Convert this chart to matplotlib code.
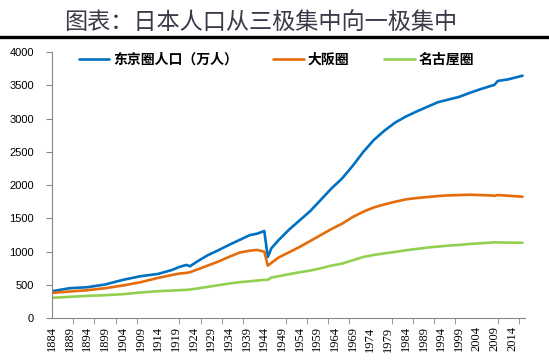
import matplotlib.pyplot as plt
from matplotlib.lines import Line2D

plt.rcParams['font.family'] = ['Noto Sans CJK SC', 'DejaVu Sans']

# data (万人)
years = [1884, 1889, 1894, 1899, 1904, 1909, 1914, 1918, 1920, 1922, 1923, 1925,
         1928, 1931, 1934, 1937, 1940, 1942, 1944, 1945, 1946, 1948, 1951, 1954,
         1957, 1960, 1963, 1966, 1969, 1972, 1975, 1978, 1981, 1984, 1987, 1990,
         1993, 1996, 1999, 2002, 2005, 2008, 2009, 2010, 2013, 2017]

tokyo = [405, 450, 465, 505, 575, 630, 665, 725, 770, 800, 780, 850,
         945, 1020, 1100, 1175, 1250, 1270, 1310, 920, 1050, 1170, 1330, 1470,
         1610, 1780, 1950, 2100, 2290, 2500, 2680, 2820, 2940, 3030, 3105, 3175,
         3245, 3285, 3325, 3385, 3440, 3490, 3505, 3565, 3590, 3645]

osaka = [380, 400, 420, 450, 490, 540, 605, 650, 670, 680, 690, 730,
         790, 850, 920, 985, 1015, 1025, 1000, 790, 830, 910, 990, 1070,
         1160, 1250, 1340, 1420, 1520, 1600, 1665, 1710, 1750, 1785, 1805, 1820,
         1835, 1845, 1850, 1855, 1850, 1845, 1840, 1850, 1840, 1825]

nagoya = [305, 320, 335, 345, 360, 385, 405, 415, 420, 425, 430, 445,
          470, 495, 520, 540, 555, 565, 575, 575, 610, 630, 660, 690,
          715, 750, 790, 820, 870, 920, 950, 975, 995, 1020, 1040, 1060,
          1075, 1090, 1100, 1115, 1125, 1135, 1140, 1138, 1135, 1133]

labels = ['东京圈人口（万人）', '大阪圈', '名古屋圈']
colors = ['#0070C0', '#E46C0A', '#92D050']
label_years = list(range(1884, 2015, 5))
tick_years = list(range(1884, 2018, 6))

fig = plt.figure(figsize=(5.49, 3.64), dpi=100)
ax = fig.add_axes([0.0947, 0.126, 0.861, 0.731])

for series, lab, c in zip([tokyo, osaka, nagoya], labels, colors):
    ax.plot(years, series, color=c, lw=1.9, label=lab, solid_capstyle='round')

ax.set_xlim(1884, 2017.6)
ax.set_ylim(0, 4000)
ax.set_yticks(range(0, 4001, 500))
ax.tick_params(axis='y', labelsize=8, length=4, color='#888888', pad=9)
for t in ax.get_yticklabels():
    t.set_family(['Liberation Sans', 'DejaVu Sans'])

# labels every 5 years, tick marks every 6 years (as in the source chart)
ax.set_xticks(label_years)
ax.set_xticklabels([str(y) for y in label_years], rotation=90,
                   family=['Liberation Serif', 'DejaVu Serif'], fontsize=9)
ax.tick_params(axis='x', which='major', length=0, pad=6)
ax.set_xticks(tick_years, minor=True)
ax.tick_params(axis='x', which='minor', length=4, color='#888888')

for s in ['top', 'right']:
    ax.spines[s].set_visible(False)
for s in ['left', 'bottom']:
    ax.spines[s].set_color('#888888')

ax.legend(loc='upper left', bbox_to_anchor=(0.045, 1.017), ncol=3, frameon=False,
          prop={'weight': 'bold', 'size': 10}, handlelength=2.2,
          handletextpad=0.3, columnspacing=2.5, borderaxespad=0)

fig.text(0.474, 0.937, '图表：日本人口从三极集中向一极集中', ha='center', va='center',
         fontsize=16.7, color='#3a3a48')
fig.add_artist(Line2D([0, 1], [0.899, 0.899], transform=fig.transFigure,
                      color='black', lw=2.4))

fig.savefig('out.png', dpi=100)
